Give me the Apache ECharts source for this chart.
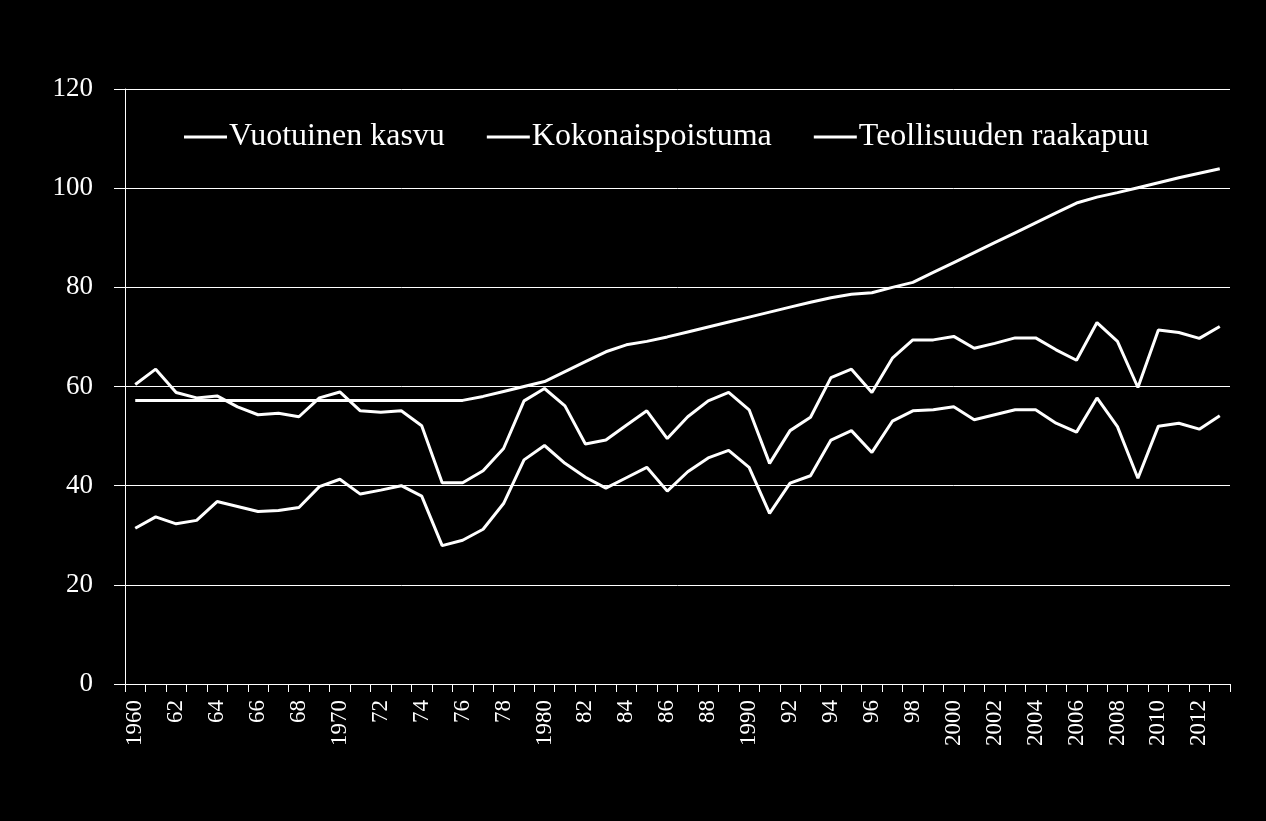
<!DOCTYPE html>
<html>
<head>
<meta charset="utf-8">
<script src="https://cdn.jsdelivr.net/npm/echarts@6/dist/echarts.min.js"></script>
<style>
html,body{margin:0;padding:0;background:#000;}
#chart{width:1266px;height:821px;}
</style>
</head>
<body>
<div id="chart"></div>
<script>
var categories = ["1960","61","62","63","64","65","66","67","68","69",
  "1970","71","72","73","74","75","76","77","78","79",
  "1980","81","82","83","84","85","86","87","88","89",
  "1990","91","92","93","94","95","96","97","98","99",
  "2000","2001","2002","2003","2004","2005","2006","2007","2008","2009",
  "2010","2011","2012","2013"];

var seriesNames = ["Vuotuinen kasvu", "Kokonaispoistuma", "Teollisuuden raakapuu"];

var vuotuinenKasvu = [57.2,57.2,57.2,57.2,57.2,57.2,57.2,57.2,57.2,57.2,
  57.2,57.2,57.2,57.2,57.2,57.2,57.2,58.0,59.0,60.0,
  61.0,63.0,65.0,67.0,68.4,69.1,70.0,71.0,72.0,73.0,
  74.0,75.0,76.0,77.0,77.9,78.6,78.9,80.0,81.0,83.0,
  85.0,87.0,89.0,91.0,93.0,95.0,97.0,98.2,99.1,100.1,
  101.1,102.1,103.0,103.9];

var kokonaispoistuma = [60.4,63.5,58.8,57.7,58.1,55.9,54.3,54.6,53.9,57.7,
  58.9,55.1,54.8,55.1,52.1,40.6,40.6,43.0,47.5,57.1,
  59.6,56.1,48.4,49.2,52.2,55.1,49.5,53.9,57.1,58.8,
  55.3,44.5,51.1,53.8,61.8,63.5,58.8,65.7,69.4,69.4,
  70.1,67.7,68.7,69.8,69.8,67.4,65.3,72.9,69.1,59.8,
  71.4,70.9,69.7,72.1];

var teollisuudenRaakapuu = [31.4,33.7,32.3,33.0,36.8,35.8,34.8,35.0,35.6,39.8,
  41.3,38.3,39.1,40.0,37.9,27.9,29.0,31.2,36.4,45.2,
  48.1,44.5,41.7,39.5,41.6,43.7,38.9,42.8,45.6,47.1,
  43.7,34.4,40.5,42.0,49.2,51.1,46.7,53.0,55.1,55.3,
  55.9,53.3,54.3,55.3,55.3,52.6,50.8,57.7,51.9,41.5,
  52.0,52.6,51.4,54.1];

var chart = echarts.init(document.getElementById('chart'), null, {renderer:'canvas'});
var serif = '"Liberation Serif", "DejaVu Serif", serif';
function lineSeries(name, data){
  return {
    name: name, type: 'line', data: data,
    symbol: 'none', smooth: false,
    lineStyle: {color: '#ffffff', width: 3},
    itemStyle: {color: '#ffffff'},
    animation: false
  };
}
chart.setOption({
  backgroundColor: '#000000',
  animation: false,
  grid: {left: 125, right: 36, top: 89, bottom: 137, containLabel: false},
  legend: {
    top: 116, left: 179,
    icon: 'rect',
    itemWidth: 43, itemHeight: 3, itemGap: 42,
    textStyle: {color: '#ffffff', fontFamily: serif, fontSize: 32, padding: [0,0,0,-3]},
    data: seriesNames
  },
  xAxis: {
    type: 'category', data: categories, boundaryGap: true,
    axisLine: {show: true, lineStyle: {color: '#ffffff', width: 1}},
    axisTick: {show: true, interval: 0, length: 8, lineStyle: {color: '#ffffff'}},
    axisLabel: {interval: 1, rotate: 90, color: '#ffffff', fontFamily: serif, fontSize: 23, margin: 16},
    splitLine: {show: false}
  },
  yAxis: {
    type: 'value', min: 0, max: 120, interval: 20,
    axisLine: {show: true, lineStyle: {color: '#ffffff', width: 1}},
    axisTick: {show: true, length: 11, lineStyle: {color: '#ffffff'}},
    axisLabel: {color: '#ffffff', fontFamily: serif, fontSize: 27, margin: 32},
    splitLine: {show: true, lineStyle: {color: '#ffffff', width: 1}}
  },
  series: [
    lineSeries(seriesNames[0], vuotuinenKasvu),
    lineSeries(seriesNames[1], kokonaispoistuma),
    lineSeries(seriesNames[2], teollisuudenRaakapuu)
  ]
});
</script>
</body>
</html>
